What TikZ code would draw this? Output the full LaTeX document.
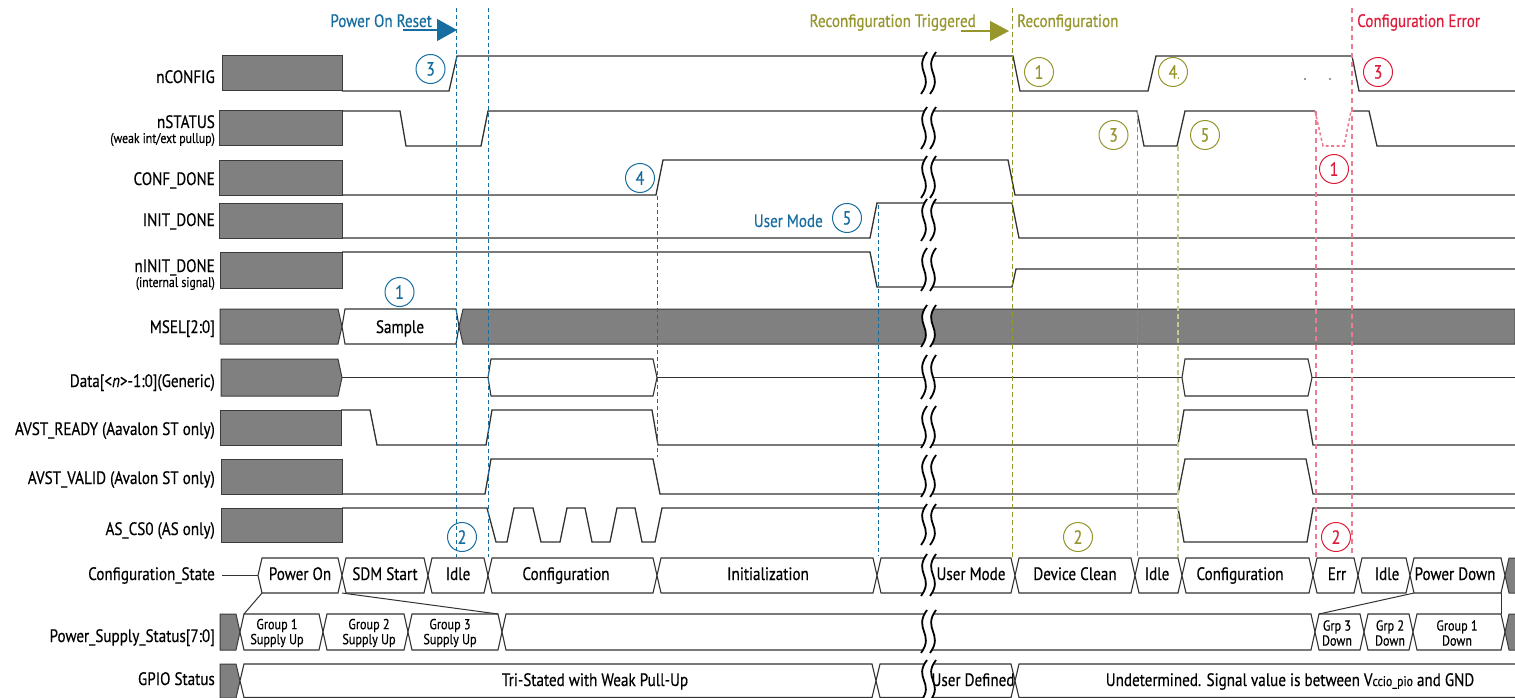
\documentclass[tikz,border=0pt]{standalone}
\usepackage{fontspec}
\setmainfont{PT Sans}[FakeStretch=0.84,FakeBold=0.4]
\usetikzlibrary{arrows.meta}
\definecolor{pblue}{RGB}{22,110,160}
\definecolor{polive}{RGB}{150,150,45}
\definecolor{polivel}{RGB}{200,200,140}
\definecolor{pred}{RGB}{220,30,60}
\definecolor{predl}{RGB}{236,125,145}
\definecolor{gfill}{RGB}{128,128,128}
\definecolor{gline}{RGB}{60,60,60}
\definecolor{sigc}{RGB}{50,50,50}
\newcommand\fsz[2]{\fontsize{#1}{#2}\selectfont}
\newcommand\hexseg[4]{\pgfmathsetmacro\hm{(#3+#4)/2}\draw[bus] (#1,\hm) -- ({#1+4},#3) -- ({#2-4},#3) -- (#2,\hm) -- ({#2-4},#4) -- ({#1+4},#4) -- cycle;}
\newcommand\sigbreak[2]{%
 \pgfmathsetmacro\bya{#1-4}\pgfmathsetmacro\byb{#2+3}%
 \pgfmathsetmacro\byc{\bya+0.45*(\byb-\bya)}\pgfmathsetmacro\byd{\byb-0.45*(\byb-\bya)}%
 \fill[white] (927,\bya) .. controls (913,\byc) and (935,\byd) .. (921,\byb) -- (930,\byb) .. controls (944,\byd) and (922,\byc) .. (936,\bya) -- cycle;
 \draw[brkl] (927,\bya) .. controls (913,\byc) and (935,\byd) .. (921,\byb);
 \draw[brkl] (936,\bya) .. controls (922,\byc) and (944,\byd) .. (930,\byb);}
\tikzset{
 sig/.style={draw=sigc, line width=1.3, line join=miter},
 gbox/.style={fill=gfill, draw=gline, line width=1},
 bus/.style={draw=sigc, line width=1.1, fill=white},
 lbl/.style={anchor=base east, font=\fsz{18}{20}, inner sep=0},
 sublbl/.style={anchor=base east, font=\fsz{14}{15}, inner sep=0},
 btxt/.style={anchor=base, font=\fsz{18}{20}, inner sep=0},
 ptxt/.style={align=center, font=\fsz{14.5}{15}, inner sep=0},
 cnum/.style={circle, draw, line width=1, minimum size=29, inner sep=0, font=\fsz{19}{20}},
 vblue/.style={draw=pblue, line width=1, dash pattern=on 4 off 3},
 volive/.style={draw=polive, line width=1, dash pattern=on 5 off 3},
 volivel/.style={draw=polivel, line width=1.4, dash pattern=on 5 off 3},
 vred/.style={draw=predl, line width=2, dash pattern=on 5 off 4},
 rdip/.style={draw=predl, line width=1.6, dash pattern=on 3 off 2.5},
 brkl/.style={draw=black, line width=1.8},
 ann/.style={font=\fsz{18}{20}, inner sep=0, anchor=base},
}
\begin{document}
\begin{tikzpicture}[x=1pt,y=-1pt]
\useasboundingbox (0,0) rectangle (1515,698);
\fill[white] (0,0) rectangle (1515,698);

% ---------- left gray boxes ----------
\draw[gbox] (222,56) rectangle (342,91);
\draw[gbox] (219,111) rectangle (342,146);
\draw[gbox] (219,160) rectangle (342,195);
\draw[gbox] (219,203) rectangle (342,238);
\draw[gbox] (220,252) rectangle (342,288);
\draw[gbox] (220,309) -- (338,309) -- (342,326.5) -- (338,344) -- (220,344) -- cycle;
\draw[gbox] (221,359) -- (338,359) -- (342,377.5) -- (338,396) -- (221,396) -- cycle;
\draw[gbox] (220,410) rectangle (341,445);
\draw[gbox] (221,459) rectangle (342,494);
\draw[gbox] (221,508) rectangle (342,542);

% ---------- waveforms ----------
\draw[sig] (342,91) -- (449,91) -- (457,56) -- (1013,56) -- (1020,91) -- (1148,91) -- (1156,56) -- (1352,56) -- (1359,91) -- (1515,91);
\fill[sigc] (1305,79) circle (0.9) (1330,79) circle (0.9);
\draw[sig] (342,111) -- (400,111) -- (406,146) -- (481,146) -- (488,111) -- (1137,111) -- (1144,146) -- (1177,146) -- (1185,111) -- (1315,111);
\draw[sig] (1353,111) -- (1369,111) -- (1377,146) -- (1515,146);
\draw[rdip] (1315,111) -- (1323,146) -- (1344,146) -- (1351,111);
\draw[sig] (342,195) -- (656,195) -- (663,160) -- (1008,160) -- (1015,195) -- (1515,195);
\draw[sig] (342,238) -- (870,238) -- (877,203) -- (1012,203) -- (1019,238) -- (1515,238);
\draw[sig] (342,252) -- (870,252) -- (877,287) -- (1012,287) -- (1016,269) -- (1515,269);
% MSEL
\draw[bus] (342,326.5) -- (345,309) -- (456,309) -- (459,326.5) -- (456,344) -- (345,344) -- cycle;
\draw[gbox] (459,326.5) -- (463,309) -- (1515,309) -- (1515,344) -- (463,344) -- cycle;
% Data
\draw[sig] (342,377.5) -- (488,377.5);
\draw[bus] (488,377.5) -- (491,359) -- (653,359) -- (657,377.5) -- (653,396) -- (491,396) -- cycle;
\draw[sig] (657,377.5) -- (1182,377.5);
\draw[bus] (1182,377.5) -- (1185,359) -- (1308,359) -- (1312,377.5) -- (1308,396) -- (1185,396) -- cycle;
\draw[sig] (1312,377.5) -- (1515,377.5);
% AVST_READY
\draw[sig] (341,410) -- (370,410) -- (377,445) -- (486,445) -- (492,410) -- (652,410) -- (658,445) -- (1178,445) -- (1184,410) -- (1307,410) -- (1313,445) -- (1515,445);
% AVST_VALID
\draw[sig] (342,494) -- (485,494) -- (491,459) -- (653,459) -- (660,494) -- (1178,494) -- (1185,459) -- (1306,459) -- (1313,494) -- (1515,494);
% AS_CS0
\draw[sig] (342,508) -- (487,508) -- (496,542) -- (507,542) -- (514,508) -- (533,508) -- (541,542) -- (560,542) -- (567,508) -- (585,508) -- (592,542) -- (610,542) -- (617,508) -- (635,508) -- (642,542) -- (655,542) -- (662,508) -- (1178,508) -- (1184,542) -- (1307,542) -- (1313,508) -- (1515,508);

% Configuration_State
\draw[sig] (222,575.5) -- (258,575.5);
\hexseg{258}{342}{558}{593}
\hexseg{342}{428}{558}{593}
\hexseg{428}{488}{558}{593}
\hexseg{488}{657}{558}{593}
\hexseg{657}{877}{558}{593}
\hexseg{877}{1015}{558}{593}
\hexseg{1015}{1135}{558}{593}
\hexseg{1135}{1182}{558}{593}
\hexseg{1182}{1313}{558}{593}
\hexseg{1313}{1358}{558}{593}
\hexseg{1358}{1410}{558}{593}
\hexseg{1410}{1505}{558}{593}
\draw[gbox] (1505,575.5) -- (1509,558) -- (1516,558) -- (1516,593) -- (1509,593) -- cycle;

% Power_Supply_Status
\draw[gbox] (220,614) -- (236,614) -- (240,632) -- (236,650) -- (220,650) -- cycle;
\hexseg{240}{323}{614}{650}
\hexseg{323}{408}{614}{650}
\hexseg{408}{502}{614}{650}
\hexseg{502}{1315}{614}{650}
\hexseg{1315}{1364}{614}{650}
\hexseg{1364}{1413}{614}{650}
\hexseg{1413}{1505}{614}{650}
\draw[gbox] (1505,632) -- (1509,614) -- (1516,614) -- (1516,650) -- (1509,650) -- cycle;

% GPIO
\draw[gbox] (220,664) -- (236,664) -- (240,681) -- (236,698) -- (220,698) -- cycle;
\hexseg{240}{876}{664}{697.5}
\hexseg{876}{1015}{664}{697.5}
\draw[bus] (1520,664) -- (1019,664) -- (1015,681) -- (1019,697.5) -- (1520,697.5);

% connections between state and supply rows
\draw[sig, line width=1] (262,593) -- (244,614);
\draw[sig, line width=1] (342,593) -- (498,614);
\draw[sig, line width=1] (1414,593) -- (1319,614);
\draw[sig, line width=1] (1501,593) -- (1501,614);

% ---------- breaks ----------
\foreach \t/\b in {56/91,111/146,160/195,203/238,252/288,309/344,359/396,410/445,459/494,508/542,558/593,614/650,664/698}
  {\sigbreak{\t}{\b}}

% ---------- vertical markers ----------
\draw[vblue] (456,8) -- (456,557);
\draw[vblue] (488,8) -- (488,557);
\draw[vblue] (657,196) -- (657,457);
\draw[vblue] (878,205) -- (878,556);
\draw[volive] (1012,8) -- (1012,557);
\draw[volive] (1137,111) -- (1137,557);
\draw[volivel] (1178,146) -- (1178,557);
\draw[vred] (1316,111) -- (1316,557);
\draw[vred] (1352,8) -- (1352,557);

% ---------- signal labels ----------
\node[lbl] (l1) at (215,83) {nCONFIG};
\node[lbl] (l2) at (215,128) {nSTATUS};
\node[sublbl] (l2b) at (215,143) {(weak int/ext pullup)};
\node[lbl] (l3) at (215,185) {CONF\_DONE};
\node[lbl] (l4) at (215,226) {INIT\_DONE};
\node[lbl] (l5) at (215,272) {nINIT\_DONE};
\node[sublbl] (l5b) at (215,287) {(internal signal)};
\node[lbl] (l6) at (215,333) {MSEL[2:0]};
\node[lbl] (l7) at (215,387) {Data[<\textit{n}>-1:0](Generic)};
\node[lbl] (l8) at (215,435) {AVST\_READY (Aavalon ST only)};
\node[lbl] (l9) at (215,484) {AVST\_VALID (Avalon ST only)};
\node[lbl] (l10) at (215,535) {AS\_CS0 (AS only)};
\node[lbl] (l11) at (215,580) {Configuration\_State};
\node[lbl] (l12) at (215,642) {Power\_Supply\_Status[7:0]};
\node[lbl] (l13) at (215,685) {GPIO Status};

% ---------- bus texts ----------
\node[btxt] (sample) at (400,333) {Sample};
\node[btxt] (s1) at (300,580) {Power On};
\node[btxt] (s2) at (385,580) {SDM Start};
\node[btxt] (s3) at (458,580) {Idle};
\node[btxt] (s4) at (566,580) {Configuration};
\node[btxt] (s5) at (768,580) {Initialization};
\node[btxt] (s6) at (971,580) {User Mode};
\node[btxt] (s7) at (1075,580) {Device Clean};
\node[btxt] (s8) at (1157,580) {Idle};
\node[btxt] (s9) at (1240,580) {Configuration};
\node[btxt] (s10) at (1337,580) {Err};
\node[btxt] (s11) at (1387,580) {Idle};
\node[btxt] (s12) at (1455,580) {Power Down};
\node[ptxt] (p1) at (277,633) {Group 1\\Supply Up};
\node[ptxt] (p2) at (369,633) {Group 2\\Supply Up};
\node[ptxt] (p3) at (450,633) {Group 3\\Supply Up};
\node[ptxt] (p4) at (1337,633) {Grp 3\\Down};
\node[ptxt] (p5) at (1390,633) {Grp 2\\Down};
\node[ptxt] (p6) at (1457,633) {Group 1\\Down};
\node[btxt] (g1) at (595,686) {Tri-Stated with Weak Pull-Up};
\node[btxt] (g2) at (973,686) {User Defined};
\node[btxt] (g3) at (1290,686) {Undetermined. Signal value is between V{\fsz{14}{16}ccio\_pio} and GND};

% ---------- annotations ----------
\node[ann, anchor=base east, text=pblue] (por) at (432,27) {Power On Reset};
\coordinate (por-s) at (403,30);
\coordinate (por-e) at (457,30);
\draw[pblue, line width=1.2, -{Triangle[length=20pt,width=22pt]}] (por-s) -- (por-e);
\node[ann, anchor=base east, text=polive] (rt) at (976,27) {Reconfiguration Triggered};
\coordinate (rt-s) at (961,31);
\coordinate (rt-e) at (1009,31);
\draw[polive, line width=1.2, -{Triangle[length=19pt,width=20pt]}] (rt-s) -- (rt-e);
\node[ann, anchor=base west, text=polive] (rc) at (1017,27) {Reconfiguration};
\node[ann, anchor=base west, text=pred] (ce) at (1357,27) {Configuration Error};
\node[ann, anchor=base east, text=pblue] (um) at (823,227) {User Mode};

% ---------- circled numbers ----------
\node[cnum, draw=pblue, text=pblue] (b3) at (430.5,69) {3};
\node[cnum, draw=pblue, text=pblue] (b4) at (640,178) {4};
\node[cnum, draw=pblue, text=pblue] (b5) at (847,218) {5};
\node[cnum, draw=pblue, text=pblue] (b1) at (399.5,292) {1};
\node[cnum, draw=pblue, text=pblue] (b2) at (462,537) {2};
\node[cnum, draw=polive, text=polive] (o1) at (1039,72) {1};
\node[cnum, draw=polive, text=polive] (o4) at (1173,72) {4\rlap{\fsz{12}{12}.}};
\node[cnum, draw=polive, text=polive] (o3) at (1113.5,135) {3};
\node[cnum, draw=polive, text=polive] (o5) at (1205,135) {5};
\node[cnum, draw=polive, text=polive] (o2) at (1078,537) {2};
\node[cnum, draw=pred, text=pred] (r3) at (1378,72) {3};
\node[cnum, draw=pred, text=pred] (r1) at (1334,169) {1};
\node[cnum, draw=pred, text=pred] (r2) at (1336,537) {2};
\end{tikzpicture}
\end{document}
